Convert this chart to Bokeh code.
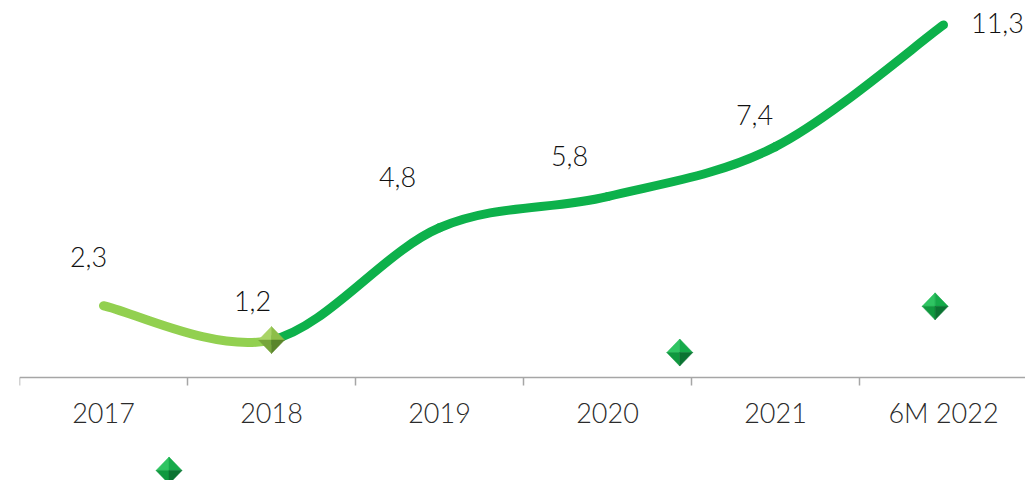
from bokeh.plotting import figure
from bokeh.models import Range1d, LinearAxis, FixedTicker, ColumnDataSource
from bokeh.core.properties import value
from bokeh.embed import file_html
from bokeh.resources import INLINE

# ---- data ----
categories = ["2017", "2018", "2019", "2020", "2021", "6M 2022"]
values = [2.3, 1.2, 4.8, 5.8, 7.4, 11.3]
# decorative diamond bullets (x in category index units, y in value units)
deco_x = [0.39, 3.43, 4.95]
deco_y = [-2.98, 0.80, 2.28]
# label offsets in pixels (style)
lab_dx = [-15, -19, -42, -38, -21, 54]
lab_dy = [-49, -39, -51, -41, -32, -2]

FONT = "Lato Light, Lato"
DARK = "#0DB14B"
LIGHT = "#92D050"

W, H = 1025, 480
LEFT = 19
PXX, PXY = 168.0, 31.2
x_start = -0.5
x_end = x_start + (W - LEFT) / PXX
y_end = 377 / PXY
y_start = (377 - H) / PXY

p = figure(width=W, height=H, x_range=Range1d(x_start, x_end), y_range=Range1d(y_start, y_end),
           output_backend="svg", toolbar_location=None, x_axis_type=None, y_axis_type=None,
           min_border_left=LEFT, min_border_right=0, min_border_top=0, min_border_bottom=0)
p.outline_line_color = None
p.background_fill_color = "white"
p.border_fill_color = "white"

n = len(values)
xs = list(range(n))

# axes: tick marks between categories, labels at centres
tick_axis = LinearAxis(ticker=FixedTicker(ticks=[i - 0.5 for i in range(n + 1)]), fixed_location=0,
                       axis_line_color="#A6A6A6", axis_line_width=1.5,
                       major_tick_line_color="#A6A6A6", major_tick_line_width=1.5,
                       major_tick_out=8, major_tick_in=0, minor_tick_out=0, minor_tick_in=0,
                       major_label_overrides={i - 0.5: "" for i in range(n + 1)})
p.add_layout(tick_axis, "below")
lab_axis = LinearAxis(ticker=FixedTicker(ticks=xs), fixed_location=0,
                      axis_line_color=None, major_tick_line_color=None, minor_tick_line_color=None,
                      major_tick_out=0, major_tick_in=0, minor_tick_out=0, minor_tick_in=0,
                      major_label_overrides={i: c for i, c in enumerate(categories)},
                      major_label_standoff=18, major_label_text_font=FONT,
                      major_label_text_font_size="27px", major_label_text_color="#2B2B2B")
p.add_layout(lab_axis, "below")

# smoothed line: Catmull-Rom converted to cubic Bezier segments
pts = list(zip(xs, values))
segs = {"x0": [], "y0": [], "x1": [], "y1": [], "cx0": [], "cy0": [], "cx1": [], "cy1": [], "color": []}
for i in range(n - 1):
    p0 = pts[max(i - 1, 0)]
    p1 = pts[i]
    p2 = pts[i + 1]
    p3 = pts[min(i + 2, n - 1)]
    segs["x0"].append(p1[0]); segs["y0"].append(p1[1])
    segs["x1"].append(p2[0]); segs["y1"].append(p2[1])
    segs["cx0"].append(p1[0] + (p2[0] - p0[0]) / 6); segs["cy0"].append(p1[1] + (p2[1] - p0[1]) / 6)
    segs["cx1"].append(p2[0] - (p3[0] - p1[0]) / 6); segs["cy1"].append(p2[1] - (p3[1] - p1[1]) / 6)
    segs["color"].append(LIGHT if i == 0 else DARK)
p.bezier(x0="x0", y0="y0", x1="x1", y1="y1", cx0="cx0", cy0="cy0", cx1="cx1", cy1="cy1",
         source=ColumnDataSource(segs), line_color="color", line_width=9, line_cap="round")

# faceted diamonds
hw = 13.0 / PXX
hh = 13.5 / PXY

def diamond(cx, cy, cols):
    top = (cx, cy + hh); bot = (cx, cy - hh); lf = (cx - hw, cy); rt = (cx + hw, cy); c = (cx, cy)
    tris = [(top, lf, c), (top, rt, c), (bot, lf, c), (bot, rt, c)]
    return [[t[0][0], t[1][0], t[2][0]] for t in tris], [[t[0][1], t[1][1], t[2][1]] for t in tris], cols

GREEN_F = ["#2FC462", "#16AA4A", "#10983F", "#0B7332"]
OLIVE_F = ["#A9D466", "#8DBE48", "#76A63A", "#5A852B"]
dx_all, dy_all, dc_all = [], [], []
for cx, cy in zip(deco_x, deco_y):
    a, b, c = diamond(cx, cy, GREEN_F)
    dx_all += a; dy_all += b; dc_all += c
a, b, c = diamond(xs[1], values[1], OLIVE_F)
dx_all += a; dy_all += b; dc_all += c
p.patches(xs=dx_all, ys=dy_all, fill_color=dc_all, line_color=dc_all, line_width=0.5)

# data labels
labels = [f"{v:.1f}".replace(".", ",") for v in values]
src = ColumnDataSource(dict(x=xs, y=values, t=labels, dx=lab_dx, dy=lab_dy))
p.text(x="x", y="y", text="t", x_offset="dx", y_offset="dy", source=src,
       text_font=value(FONT), text_font_size="27px", text_color="#111111",
       text_align="center", text_baseline="middle")

open("out.html", "w").write(file_html(p, INLINE))
